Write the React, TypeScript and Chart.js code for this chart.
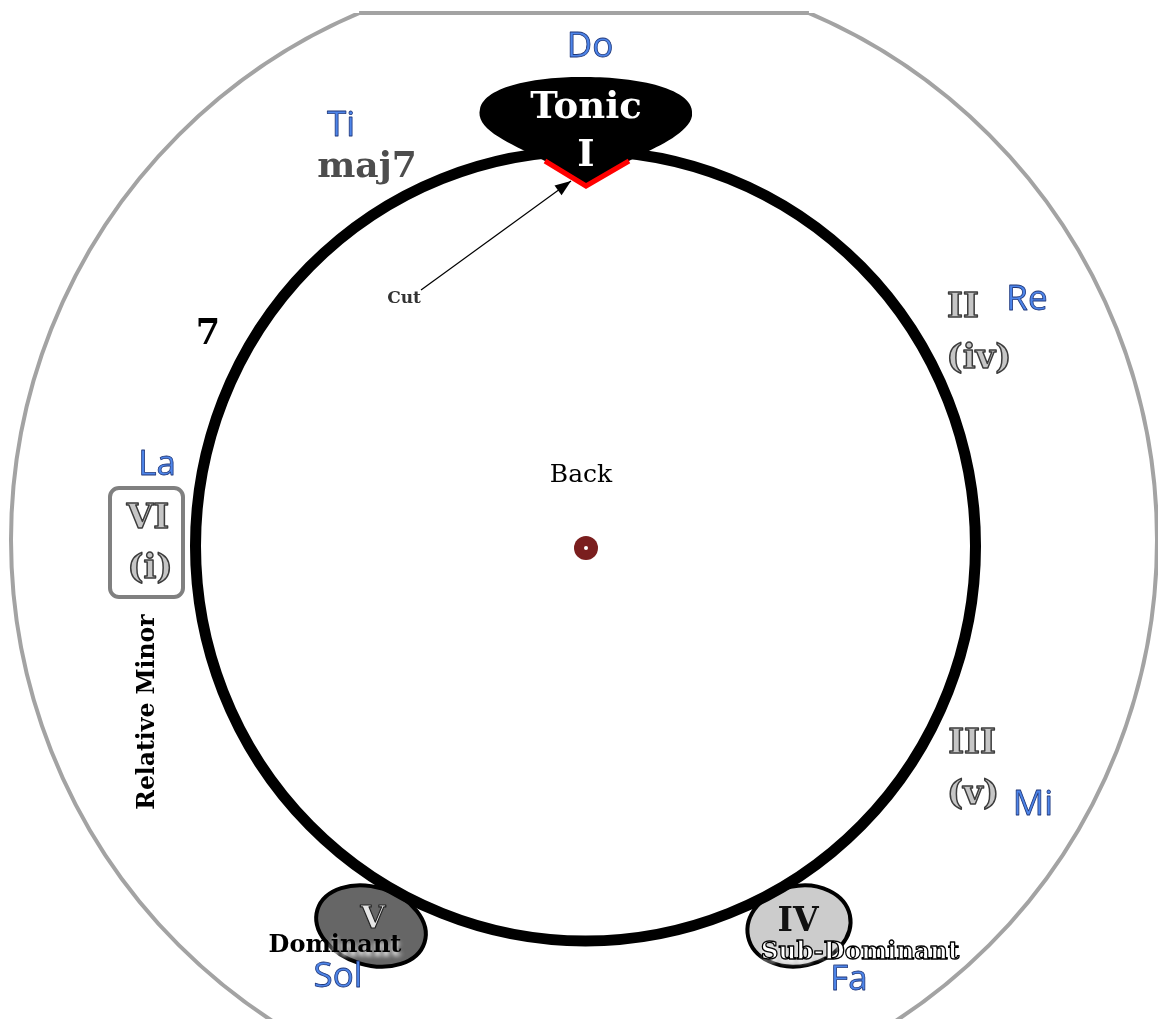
import React, { useEffect, useRef } from 'react';
import { Chart, registerables } from 'chart.js';
Chart.register(...registerables);

// Chart value space: origin at the centre of the circle, y pointing up.
const solfegeNames = ['Do', 'Re', 'Mi', 'Fa', 'Sol', 'La', 'Ti'];
const solfegeX = [5, 442, 448, 264, -247, -428, -244];
const solfegeY = [499, 246, -259, -434, -431, 81, 420];

const numeralTexts = ['II', '(iv)', 'III', '(v)', 'VI', '(i)'];
const numeralX = [378, 394, 387, 388, -437, -435];
const numeralY = [238, 187, -198, -249, 27, -23];

const tonicLabels = ['Tonic', 'I'];
const tonicX = [1, 1];
const tonicY = [438, 390];

const chordNodeLabels = ['V', 'IV'];
const chordNodeX = [-213, 214];
const chordNodeY = [-380, -380];
const functionLabels = ['Dominant', 'Sub-Dominant'];
const functionX = [-250, 275];
const functionY = [-400, -407];

const extraLabels = ['maj7', '7', 'Back', 'Cut', 'Relative Minor'];
const extraX = [-218, -377, -4, -181, -437];
const extraY = [378, 211, 71, 247, -166];

const centerDot = [{ x: 1, y: -2 }];

export default function App() {
  const ref = useRef<HTMLCanvasElement>(null);
  useEffect(() => {
    document.body.style.margin = '0';
    const canvas = ref.current;
    if (!canvas) return;

    const diagram = {
      id: 'diagram',
      beforeDatasetsDraw(chart: any) {
        const ctx = chart.ctx as CanvasRenderingContext2D;
        const xs = chart.scales.x;
        const ys = chart.scales.y;
        const X = (v: number) => xs.getPixelForValue(v);
        const Y = (v: number) => ys.getPixelForValue(v);
        const S = (v: number) => Math.abs(X(v) - X(0));
        ctx.save();

        // outer grey ring clipped flat at top
        const ocx = -1, ocy = 6, orr = 573, topV = 533;
        ctx.save();
        ctx.beginPath();
        ctx.rect(0, Y(topV), chart.width, chart.height);
        ctx.clip();
        ctx.beginPath();
        ctx.arc(X(ocx), Y(ocy), S(orr), 0, Math.PI * 2);
        ctx.strokeStyle = '#a3a3a3';
        ctx.lineWidth = 4;
        ctx.stroke();
        ctx.restore();
        const half = Math.sqrt(orr * orr - (topV - ocy) * (topV - ocy));
        ctx.beginPath();
        ctx.moveTo(X(ocx - half), Y(topV));
        ctx.lineTo(X(ocx + half), Y(topV));
        ctx.strokeStyle = '#a3a3a3';
        ctx.lineWidth = 4;
        ctx.stroke();

        // chord ellipses
        const ell = (cx: number, cy: number, rx: number, ry: number, rot: number, fill: string) => {
          ctx.beginPath();
          ctx.ellipse(X(cx), Y(cy), S(rx), S(ry), (rot * Math.PI) / 180, 0, Math.PI * 2);
          ctx.fillStyle = fill;
          ctx.fill();
          ctx.strokeStyle = '#000';
          ctx.lineWidth = 4;
          ctx.stroke();
        };
        ell(chordNodeX[0] - 1, chordNodeY[0], 56, 39, 17, '#666666');
        ell(chordNodeX[1], chordNodeY[1], 52, 40, -12, '#cccccc');

        // main black circle
        ctx.beginPath();
        ctx.ellipse(X(0.5), Y(0), S(390), S(395), 0, 0, Math.PI * 2);
        ctx.strokeStyle = '#000';
        ctx.lineWidth = 11;
        ctx.stroke();

        // tonic blob
        ctx.beginPath();
        ctx.moveTo(X(-52), Y(391));
        ctx.bezierCurveTo(X(-80), Y(405), X(-110), Y(418), X(-105), Y(437));
        ctx.bezierCurveTo(X(-100), Y(462), X(-40), Y(470), X(1), Y(469));
        ctx.bezierCurveTo(X(50), Y(469), X(112), Y(458), X(107), Y(430));
        ctx.bezierCurveTo(X(104), Y(414), X(75), Y(400), X(55), Y(391));
        ctx.lineTo(X(42), Y(384));
        ctx.lineTo(X(1), Y(360));
        ctx.lineTo(X(-38), Y(384));
        ctx.closePath();
        ctx.fillStyle = '#000';
        ctx.fill();
        // red cut
        ctx.beginPath();
        ctx.moveTo(X(-40), Y(385));
        ctx.lineTo(X(1), Y(360));
        ctx.lineTo(X(44), Y(385));
        ctx.strokeStyle = '#ff0000';
        ctx.lineWidth = 5;
        ctx.lineJoin = 'miter';
        ctx.stroke();

        // relative minor box
        ctx.beginPath();
        (ctx as any).roundRect(X(-475), Y(58), S(73), S(109), 9);
        ctx.strokeStyle = '#808080';
        ctx.lineWidth = 4;
        ctx.stroke();

        // arrow
        const ax0 = X(-164), ay0 = Y(256), ax1 = X(-14), ay1 = Y(365);
        ctx.beginPath();
        ctx.moveTo(ax0, ay0);
        ctx.lineTo(ax1, ay1);
        ctx.strokeStyle = '#000';
        ctx.lineWidth = 1.2;
        ctx.stroke();
        const ang = Math.atan2(ay1 - ay0, ax1 - ax0);
        const hl = 16, hw = 6;
        ctx.beginPath();
        ctx.moveTo(ax1, ay1);
        ctx.lineTo(ax1 - hl * Math.cos(ang) + hw * Math.sin(ang), ay1 - hl * Math.sin(ang) - hw * Math.cos(ang));
        ctx.lineTo(ax1 - hl * Math.cos(ang) - hw * Math.sin(ang), ay1 - hl * Math.sin(ang) + hw * Math.cos(ang));
        ctx.closePath();
        ctx.fillStyle = '#000';
        ctx.fill();

        ctx.restore();
      },
      afterDatasetsDraw(chart: any) {
        const ctx = chart.ctx as CanvasRenderingContext2D;
        const xs = chart.scales.x;
        const ys = chart.scales.y;
        const X = (v: number) => xs.getPixelForValue(v);
        const Y = (v: number) => ys.getPixelForValue(v);
        const txt = (
          t: string, x: number, y: number, font: string, fill: string,
          stroke?: string, lw?: number, rot?: number
        ) => {
          ctx.save();
          ctx.translate(X(x), Y(y));
          if (rot) ctx.rotate(rot);
          ctx.font = font;
          ctx.textAlign = 'center';
          ctx.textBaseline = 'middle';
          ctx.fillStyle = fill;
          ctx.fillText(t, 0, 0);
          if (stroke) {
            ctx.strokeStyle = stroke;
            ctx.lineWidth = lw || 1;
            ctx.lineJoin = 'round';
            ctx.strokeText(t, 0, 0);
          }
          ctx.restore();
        };
        const serifB = (s: number) => `bold ${s}px "DejaVu Serif"`;

        // solfege
        solfegeNames.forEach((n, i) =>
          txt(n, solfegeX[i], solfegeY[i], '35px "Open Sans"', '#4d85ea', '#21387a', 0.8)
        );
        // roman numerals (grey outlined)
        numeralTexts.forEach((n, i) =>
          txt(n, numeralX[i], numeralY[i], serifB(34), '#c6c6c6', '#3c3c3c', 1.5)
        );
        // tonic
        tonicLabels.forEach((n, i) => txt(n, tonicX[i], tonicY[i], serifB(37), '#ffffff'));
        // chord nodes
        txt(chordNodeLabels[0], chordNodeX[0] + 1, chordNodeY[0] + 6, serifB(32), '#e6e6e6', '#222', 1.2);
        txt(chordNodeLabels[1], chordNodeX[1] - 1, chordNodeY[1] + 4, serifB(33), '#111111');
        // function names with white glow
        ctx.save();
        ctx.shadowColor = 'rgba(255,255,255,0.95)';
        ctx.shadowBlur = 4;
        ctx.shadowOffsetY = 4;
        txt(functionLabels[0], functionX[0], functionY[0], serifB(24), '#000000');
        ctx.restore();
        ctx.save();
        ctx.shadowColor = 'rgba(255,255,255,0.95)';
        ctx.shadowBlur = 4;
        ctx.shadowOffsetY = 4;
        txt(functionLabels[1], functionX[1], functionY[1], serifB(24.5), '#ffffff');
        ctx.restore();
        txt(functionLabels[1], functionX[1], functionY[1], serifB(24.5), '#ffffff', '#000000', 1.3);

        // extras
        txt(extraLabels[0], extraX[0], extraY[0], serifB(36), '#4d4d4d');
        txt(extraLabels[1], extraX[1], extraY[1], serifB(35), '#000000');
        txt(extraLabels[2], extraX[2], extraY[2], '25px "DejaVu Serif"', '#000000');
        txt(extraLabels[3], extraX[3], extraY[3], serifB(17), '#333333');
        txt(extraLabels[4], extraX[4], extraY[4], serifB(23.5), '#000000', undefined, undefined, -Math.PI / 2);
      },
    };

    const chart = new Chart(canvas, {
      type: 'scatter',
      data: {
        datasets: [
          {
            data: centerDot,
            pointRadius: 2,
            pointHoverRadius: 2,
            backgroundColor: '#ffffff',
            borderWidth: 0,
            order: 0,
          },
          {
            data: centerDot,
            pointRadius: 12,
            pointHoverRadius: 12,
            backgroundColor: '#7a1e1e',
            borderWidth: 0,
            order: 1,
          },
        ],
      },
      options: {
        animation: false,
        responsive: true,
        maintainAspectRatio: false,
        layout: { padding: 0, autoPadding: false },
        events: [],
        plugins: { legend: { display: false }, tooltip: { enabled: false } },
        scales: {
          x: { type: 'linear', min: -585, max: 573, display: false },
          y: { type: 'linear', min: -473, max: 546, display: false },
        },
      },
      plugins: [diagram],
    });
    return () => chart.destroy();
  }, []);

  return (
    <div style={{ position: 'absolute', left: 0, top: 0, width: 1158, height: 1019, background: '#fff' }}>
      <canvas ref={ref} />
    </div>
  );
}
